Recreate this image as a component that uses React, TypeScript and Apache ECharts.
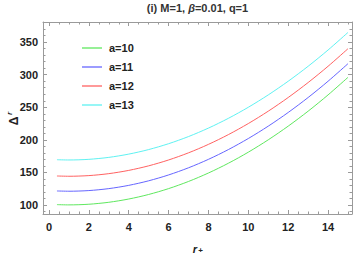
import React, { useEffect, useRef } from "react";
import * as echarts from "echarts";

const rValues = [0.4, 1, 2, 3, 4, 5, 6, 7, 8, 9, 10, 11, 12, 13, 14, 15];
const seriesNames = ["a=10", "a=11", "a=12", "a=13"];
const a10 = [100.4, 100, 101, 104, 109, 116, 125, 136, 149, 164, 181, 200, 221, 244, 269, 296];
const a11 = [121.4, 121, 122, 125, 130, 137, 146, 157, 170, 185, 202, 221, 242, 265, 290, 317];
const a12 = [144.4, 144, 145, 148, 153, 160, 169, 180, 193, 208, 225, 244, 265, 288, 313, 340];
const a13 = [169.4, 169, 170, 173, 178, 185, 194, 205, 218, 233, 250, 269, 290, 313, 338, 365];
const seriesValues = [a10, a11, a12, a13];
const colors = ["#5fe85f", "#6666ff", "#ff6262", "#5ff2f2"];

const xMajor = [0, 2, 4, 6, 8, 10, 12, 14];
const xMinor = [0.5, 1, 1.5, 2.5, 3, 3.5, 4.5, 5, 5.5, 6.5, 7, 7.5, 8.5, 9, 9.5, 10.5, 11, 11.5, 12.5, 13, 13.5, 14.5, 15];
const yMajor = [100, 150, 200, 250, 300, 350];
const yMinor = [90, 110, 120, 130, 140, 160, 170, 180, 190, 210, 220, 230, 240, 260, 270, 280, 290, 310, 320, 330, 340, 360, 370, 380];

const X_MIN = -0.3;
const X_MAX = 15.2;
const Y_MIN = 86;
const Y_MAX = 381;

const FONT = "Liberation Sans, Arial, sans-serif";
const FRAME = "#9a9a9a";
const LABEL = "#222";

export default function App() {
  const ref = useRef<HTMLDivElement>(null);
  useEffect(() => {
    if (!ref.current) return;
    const chart = echarts.init(ref.current, null, { renderer: "svg" });
    const gridRect = { left: 43, top: 22, right: 2, bottom: 41, containLabel: false };
    const labelStyle = { fontFamily: FONT, fontWeight: "bold" as const, fontSize: 11, color: LABEL };
    const mkX = (gridIndex: number, position: string, ticks: number[], len: number, labels: boolean, line: boolean) => ({
      type: "value",
      gridIndex,
      position,
      min: X_MIN,
      max: X_MAX,
      axisLine: { show: line, onZero: false, lineStyle: { color: FRAME, width: 1 } },
      axisTick: { show: true, inside: true, length: len, customValues: ticks, lineStyle: { color: FRAME, width: 1 } },
      axisLabel: labels ? { show: true, customValues: ticks, margin: 7, ...labelStyle } : { show: false },
      splitLine: { show: false },
    });
    const mkY = (gridIndex: number, position: string, ticks: number[], len: number, labels: boolean, line: boolean) => ({
      type: "value",
      gridIndex,
      position,
      min: Y_MIN,
      max: Y_MAX,
      axisLine: { show: line, onZero: false, lineStyle: { color: FRAME, width: 1 } },
      axisTick: { show: true, inside: true, length: len, customValues: ticks, lineStyle: { color: FRAME, width: 1 } },
      axisLabel: labels ? { show: true, customValues: ticks, margin: 5, ...labelStyle } : { show: false },
      splitLine: { show: false },
    });
    chart.setOption({
      animation: false,
      backgroundColor: "#fff",
      grid: [gridRect, gridRect],
      xAxis: [
        mkX(0, "bottom", xMajor, 4, true, true),
        mkX(0, "top", xMajor, 4, false, true),
        mkX(1, "bottom", xMinor, 2.5, false, false),
        mkX(1, "top", xMinor, 2.5, false, false),
      ],
      yAxis: [
        mkY(0, "left", yMajor, 4, true, true),
        mkY(0, "right", yMajor, 4, false, true),
        mkY(1, "left", yMinor, 2.5, false, false),
        mkY(1, "right", yMinor, 2.5, false, false),
      ],
      legend: {
        orient: "vertical",
        left: 77,
        top: 36,
        itemWidth: 20,
        itemHeight: 1.3,
        itemGap: 5,
        icon: "rect",
        textStyle: { fontFamily: FONT, fontWeight: "bold", fontSize: 11, color: LABEL, lineHeight: 14, padding: [0, 0, 0, 2] },
        data: seriesNames,
      },
      series: seriesNames.map((name, i) => ({
        name,
        type: "line",
        xAxisIndex: 0,
        yAxisIndex: 0,
        data: rValues.map((r, j) => [r, seriesValues[i][j]]),
        smooth: 0.3,
        showSymbol: false,
        symbol: "none",
        lineStyle: { color: colors[i], width: 1 },
        itemStyle: { color: colors[i] },
      })),
      graphic: [
        {
          type: "text",
          x: 197.5,
          y: 8,
          style: {
            text: "(i) M=1, {i|β}=0.01, q=1",
            align: "center",
            verticalAlign: "middle",
            font: `bold 11px ${FONT}`,
            fill: "#333",
            rich: {
              i: { fontStyle: "italic", fontWeight: "bold", fontSize: 11, fontFamily: FONT, fill: "#333" },
            },
          },
        },
        {
          type: "text",
          x: 13.5,
          y: 121,
          rotation: Math.PI / 2,
          style: {
            text: "Δ",
            align: "center",
            verticalAlign: "middle",
            font: `bold 12px ${FONT}`,
            fill: LABEL,
          },
        },
        {
          type: "text",
          x: 9,
          y: 113.5,
          rotation: Math.PI / 2,
          style: {
            text: "r",
            align: "center",
            verticalAlign: "middle",
            font: `italic bold 8px ${FONT}`,
            fill: LABEL,
          },
        },
        {
          type: "text",
          x: 195,
          y: 248.5,
          style: {
            text: "r",
            align: "center",
            verticalAlign: "middle",
            font: `italic bold 11px ${FONT}`,
            fill: LABEL,
          },
        },
        {
          type: "text",
          x: 200.5,
          y: 250.5,
          style: {
            text: "+",
            align: "center",
            verticalAlign: "middle",
            font: `bold 8px ${FONT}`,
            fill: LABEL,
          },
        },
      ],
    });
    return () => chart.dispose();
  }, []);
  return <div ref={ref} style={{ position: "fixed", left: 0, top: 0, width: 354, height: 255 }} />;
}
